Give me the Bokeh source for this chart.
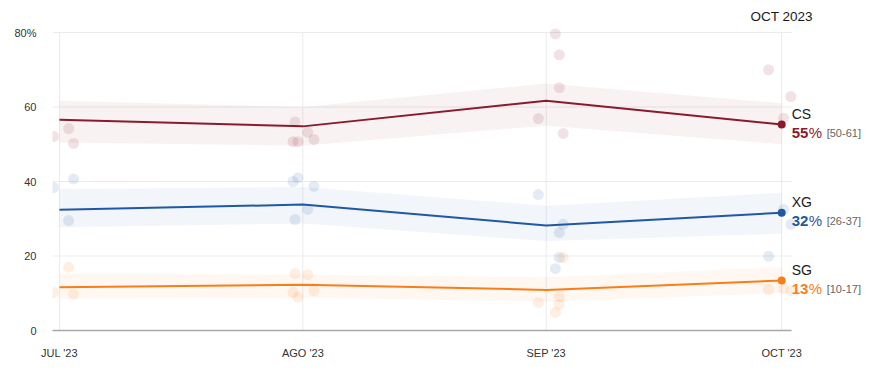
import pandas as pd
from bokeh.plotting import figure
from bokeh.models import Range1d, FixedTicker, Label
from bokeh.embed import file_html
from bokeh.resources import INLINE

# ---- data ----
months = ["2023-07-01", "2023-08-01", "2023-09-01", "2023-10-01"]
month_labels = ["JUL '23", "AGO '23", "SEP '23", "OCT '23"]
title_text = "OCT 2023"

parties = ["CS", "XG", "SG"]
cs_trend = [56.6, 54.8, 61.7, 55.3]
cs_low = [50.5, 49.6, 55.0, 50.0]
cs_high = [61.7, 60.0, 66.3, 61.0]
xg_trend = [32.4, 33.8, 28.2, 31.6]
xg_low = [27.7, 28.7, 24.0, 26.0]
xg_high = [38.0, 38.5, 33.5, 37.0]
sg_trend = [11.6, 12.3, 10.9, 13.4]
sg_low = [8.6, 8.8, 7.8, 10.0]
sg_high = [15.3, 15.0, 14.3, 17.0]

poll_dates = [
    "2023-06-30 06:00", "2023-07-02 04:00", "2023-07-02 19:00",
    "2023-07-30 18:00", "2023-07-31 00:00", "2023-07-31 09:00", "2023-08-01 15:00", "2023-08-02 10:00",
    "2023-08-31 00:00", "2023-09-02 04:00", "2023-09-02 16:00", "2023-09-02 16:00", "2023-09-03 04:00",
    "2023-09-29 08:00", "2023-10-01 06:00", "2023-10-02 04:00",
]
cs_polls = [52.1, 54.2, 50.2, 50.7, 56.0, 50.7, 53.2, 51.3, 56.9, 79.6, 74.0, 65.2, 52.9, 70.0, 57.0, 62.8]
xg_polls = [38.4, 29.5, 40.7, 40.0, 29.8, 41.0, 32.5, 38.7, 36.5, 16.6, 19.6, 26.3, 28.5, 19.9, 32.5, 28.5]
sg_polls = [10.2, 17.0, 9.7, 10.2, 15.3, 8.9, 15.0, 10.7, 7.5, 4.8, 7.0, 9.1, 19.6, 11.0, 11.2, 10.7]

colors = {"CS": "#8a1b2c", "XG": "#1f58a3", "SG": "#fb7d16"}

series = {
    "CS": (cs_trend, cs_low, cs_high, cs_polls),
    "XG": (xg_trend, xg_low, xg_high, xg_polls),
    "SG": (sg_trend, sg_low, sg_high, sg_polls),
}

y_ticks = [0, 20, 40, 60, 80]
y_tick_labels = ["0", "20", "40", "60", "80%"]

# ---- convert dates to day numbers ----
base = pd.Timestamp(months[0])
def to_days(lst):
    return [float((pd.Timestamp(d) - base) / pd.Timedelta(days=1)) for d in lst]

month_days = to_days(months)
poll_days = to_days(poll_dates)

FONT = "Liberation Sans"

# layout: frame spans from x=52 to right edge, from top to y=330
W, H = 884, 383
LEFT, BOTTOM = 52, 53
px_per_day = 7.85
px_per_unit = 3.725
x_start = month_days[0] - 0.89
x_plot_end = month_days[-1] + 1.27
x_end = x_start + (W - LEFT) / px_per_day
y_end = (H - BOTTOM) / px_per_unit

p = figure(width=W, height=H, output_backend="svg", toolbar_location=None,
           x_range=Range1d(x_start, x_end),
           y_range=Range1d(0, y_end),
           min_border_left=LEFT, min_border_right=0, min_border_top=0, min_border_bottom=BOTTOM)
p.outline_line_color = None
p.background_fill_color = "white"
p.border_fill_color = "white"

# axes
p.xaxis.ticker = FixedTicker(ticks=month_days)
p.xaxis.major_label_overrides = {int(d): lab for d, lab in zip(month_days, month_labels)}
p.xaxis.bounds = (x_start, x_plot_end)
p.yaxis.ticker = FixedTicker(ticks=y_ticks)
p.yaxis.major_label_overrides = {t: lab for t, lab in zip(y_ticks, y_tick_labels)}
for ax in (p.xaxis, p.yaxis):
    ax.major_tick_line_color = None
    ax.minor_tick_line_color = None
    ax.major_label_text_font = FONT
    ax.major_label_text_font_size = "11px"
    ax.major_label_text_color = "#333333"
p.yaxis.axis_line_color = None
p.yaxis.major_label_standoff = 10
p.xaxis.axis_line_color = "#a8a8a8"
p.xaxis.axis_line_width = 1.5
p.xaxis.major_label_standoff = 10
p.xgrid.grid_line_color = None
p.ygrid.grid_line_color = None

# grid lines limited to the plotting area
GRID = "#ebebeb"
p.segment(x0=[x_start] * (len(y_ticks) - 1), x1=[x_plot_end] * (len(y_ticks) - 1),
          y0=y_ticks[1:], y1=y_ticks[1:], line_color=GRID, line_width=1)
p.segment(x0=month_days, x1=month_days, y0=[y_ticks[0]] * len(month_days),
          y1=[y_ticks[-1]] * len(month_days), line_color=GRID, line_width=1)

# bands
for name in parties:
    trend, low, high, polls = series[name]
    p.varea(x=month_days, y1=low, y2=high, fill_color=colors[name], fill_alpha=0.06)

# polls
for name in parties:
    trend, low, high, polls = series[name]
    p.scatter(x=poll_days, y=polls, size=11, fill_color=colors[name], fill_alpha=0.12, line_color=None)

# trend lines and end markers
for name in parties:
    trend, low, high, polls = series[name]
    p.line(x=month_days, y=trend, line_color=colors[name], line_width=2)
    p.scatter(x=[month_days[-1]], y=[trend[-1]], size=8, fill_color=colors[name], line_color=None)

# right labels
for name in parties:
    trend, low, high, polls = series[name]
    last = trend[-1]
    p.add_layout(Label(x=month_days[-1], y=last, x_offset=10, y_offset=11, text=name,
                       text_font=FONT, text_font_size="14px", text_color="#1a1a1a",
                       text_baseline="middle", text_align="left"))
    p.add_layout(Label(x=month_days[-1], y=last, x_offset=10, y_offset=-8, text=f"{round(last)}",
                       text_font=FONT, text_font_size="15px", text_font_style="bold",
                       text_color=colors[name], text_baseline="middle", text_align="left"))
    p.add_layout(Label(x=month_days[-1], y=last, x_offset=27, y_offset=-8, text="%",
                       text_font=FONT, text_font_size="15px",
                       text_color=colors[name], text_baseline="middle", text_align="left"))
    p.add_layout(Label(x=month_days[-1], y=last, x_offset=45, y_offset=-8,
                       text=f"[{round(low[-1])}-{round(high[-1])}]",
                       text_font=FONT, text_font_size="11px",
                       text_color="#666666", text_baseline="middle", text_align="left"))

# title
p.add_layout(Label(x=month_days[-1], y=y_ticks[-1], y_offset=16, text=title_text,
                   text_font=FONT, text_font_size="13.5px", text_color="#1a1a1a",
                   text_baseline="middle", text_align="center"))

open("out.html", "w").write(file_html(p, INLINE))
